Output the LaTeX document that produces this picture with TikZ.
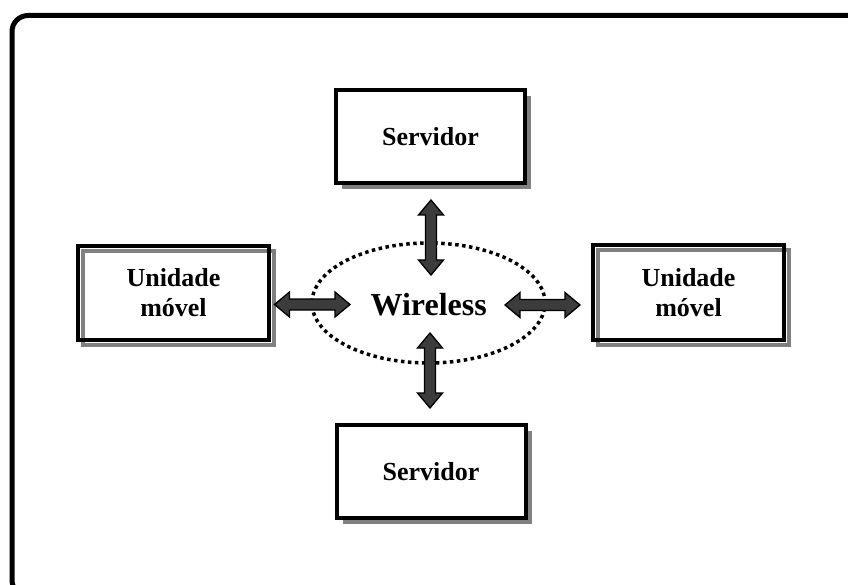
\documentclass[tikz,border=0pt]{standalone}
\usepackage{fontspec}
\setmainfont{Liberation Serif}
\usetikzlibrary{calc,shadows,shapes.geometric}

\definecolor{shadowgray}{HTML}{808080}
\definecolor{arrowfill}{HTML}{3C3C3C}

\tikzset{
  % server box: white, thick black border, solid drop shadow
  serverbox/.style={draw=black, line width=4pt, fill=white,
    minimum width=189pt, minimum height=93pt, inner sep=0pt,
    font=\fontsize{26}{30}\selectfont\bfseries,
    general shadow={fill=shadowgray, shadow xshift=6pt, shadow yshift=-6pt}},
  % mobile unit box: black border with an offset grey outline behind it
  unitbox/.style={draw=black, line width=4pt,
    minimum width=191pt, minimum height=94pt, inner sep=0pt, align=center,
    font=\fontsize{26}{30}\selectfont\bfseries,
    general shadow={draw=shadowgray, fill=none, line width=4pt,
      shadow xshift=5pt, shadow yshift=-5pt}},
  cloud/.style={draw=black, line width=3.5pt, dash pattern=on 3.5pt off 3.5pt,
    ellipse, inner sep=0pt, minimum width=233pt, minimum height=120pt},
  % fat double-headed block arrows
  blockarrow/.style={draw=black, line width=1.3pt, fill=arrowfill, line join=miter},
  varrow/.style={to path={
    -- ($(\tikztostart)+(12.5,15)$) -- ($(\tikztostart)+(5.5,15)$)
    -- ($(\tikztotarget)+(5.5,-15)$) -- ($(\tikztotarget)+(12.5,-15)$)
    -- (\tikztotarget)
    -- ($(\tikztotarget)+(-12.5,-15)$) -- ($(\tikztotarget)+(-5.5,-15)$)
    -- ($(\tikztostart)+(-5.5,15)$) -- ($(\tikztostart)+(-12.5,15)$) -- cycle}},
  harrow/.style={to path={
    -- ($(\tikztostart)+(15,-12.5)$) -- ($(\tikztostart)+(15,-5.5)$)
    -- ($(\tikztotarget)+(-15,-5.5)$) -- ($(\tikztotarget)+(-15,-12.5)$)
    -- (\tikztotarget)
    -- ($(\tikztotarget)+(-15,12.5)$) -- ($(\tikztotarget)+(-15,5.5)$)
    -- ($(\tikztostart)+(15,5.5)$) -- ($(\tikztostart)+(15,12.5)$) -- cycle}},
}

\begin{document}
\begin{tikzpicture}[x=1pt, y=-1pt]
  \clip (0,0) rectangle (848,585);
  \fill[white] (0,0) rectangle (848,585);

  % outer rounded frame, running off the right and bottom edges
  \draw[line width=5pt, rounded corners=16pt] (12,15.5) rectangle (880,596);

  % wireless medium
  \node[cloud] (cloud) at (428.5,303) {};
  \node[font=\fontsize{32}{36}\selectfont\bfseries] (wl) at (428.7,305) {Wireless};

  % servers and mobile units
  \node[serverbox] (srvT) at (430.5,136.5) {Servidor};
  \node[serverbox] (srvB) at (431,471.5) {Servidor};
  \node[unitbox] (unitL) at (173.5,293) {Unidade\\móvel};
  \node[unitbox] (unitR) at (688.5,292.5) {Unidade\\móvel};

  % arrow end points
  \coordinate (aT1) at (431,200);
  \coordinate (aT2) at (431,275);
  \coordinate (aB1) at (430,333);
  \coordinate (aB2) at (430,408);
  \coordinate (aL1) at (274.5,304.5);
  \coordinate (aL2) at (350,304.5);
  \coordinate (aR1) at (505,305);
  \coordinate (aR2) at (580,305);

  \draw[blockarrow] (aT1) to[varrow] (aT2);
  \draw[blockarrow] (aB1) to[varrow] (aB2);
  \draw[blockarrow] (aL1) to[harrow] (aL2);
  \draw[blockarrow] (aR1) to[harrow] (aR2);
\end{tikzpicture}
\end{document}
